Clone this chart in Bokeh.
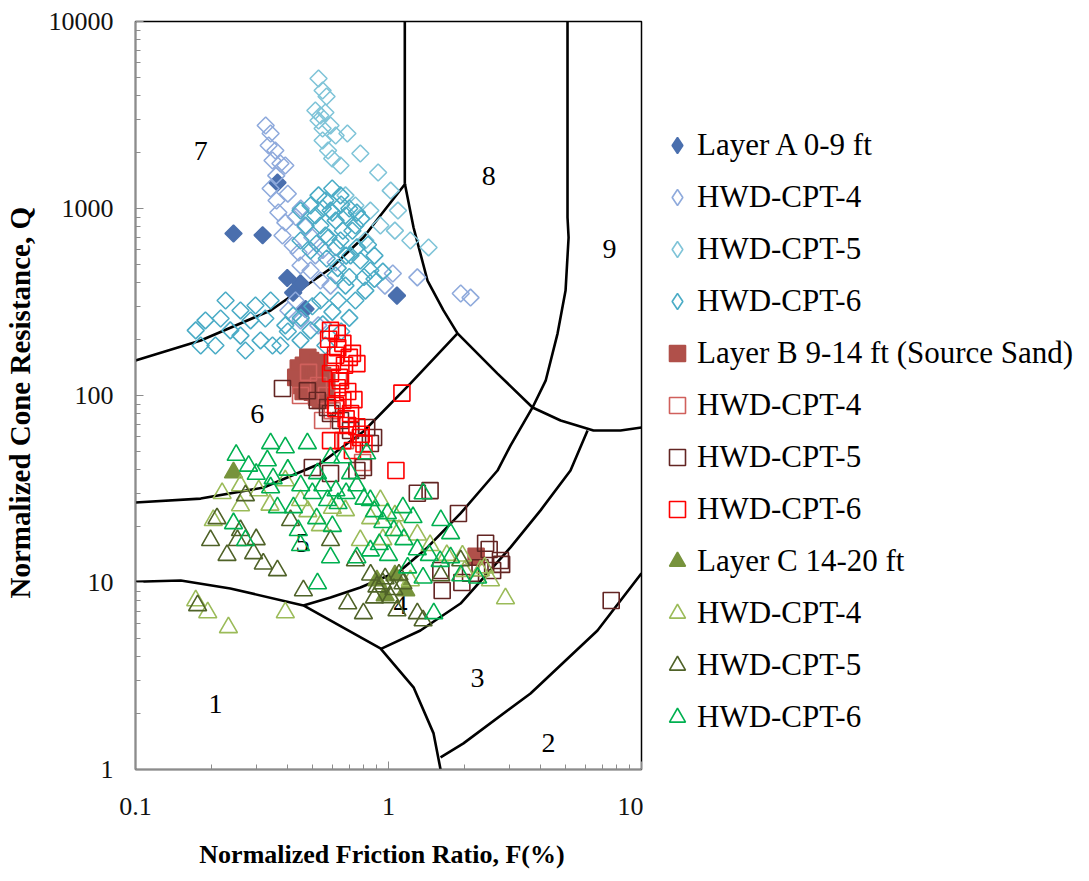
import numpy as np
from bokeh.plotting import figure
from bokeh.layouts import row
from bokeh.models import Range1d, Legend, LegendItem, CustomJSTickFormatter, FixedTicker
from bokeh.core.properties import value
from bokeh.embed import file_html
from bokeh.resources import INLINE

# ---- zone boundary curves (F %, Q) ----
b67_F = [0.1, 0.181, 0.342, 0.590, 0.796, 0.929, 1.167]
b67_Q = [154, 197, 285, 478, 700, 918, 1361]
b78_F = [1.16, 1.16]
b78_Q = [10000, 1361]
b8_F = [1.16, 1.256, 1.426, 1.649, 1.874, 2.697, 3.71, 4.79, 6.46, 8.26, 10]
b8_Q = [1361, 791, 412, 285, 215, 131, 86.3, 73.5, 65.0, 65.0, 67.4]
b9_F = [5.10, 5.10, 5.15, 5.01, 4.66, 4.18, 3.71, 3.035, 2.697, 1.926, 1.426, 1.115, 0.774, 0.590, 0.461]
b9_Q = [10000, 895, 700, 364, 215, 120, 86.3, 54.0, 39.7, 23.4, 15.4, 11.6, 9.40, 8.31, 7.54]
b56_F = [0.1, 0.181, 0.321, 0.538, 0.796, 1.222, 1.874]
b56_Q = [26.8, 28.1, 32.2, 43.3, 64.2, 116, 215]
b34_F = [6.12, 5.24, 3.99, 3.035, 1.926, 1.337, 0.929]
b34_Q = [65.0, 39.7, 24.3, 15.4, 7.72, 5.54, 4.4]
b1_F = [0.1, 0.151, 0.237, 0.461, 0.929, 1.256, 1.507, 1.606]
b1_Q = [10.1, 10.25, 9.29, 7.54, 4.44, 2.75, 1.56, 1.0]
b23_F = [10, 6.70, 3.642, 1.978, 1.606]
b23_Q = [11.2, 5.54, 2.55, 1.38, 1.16]

zone_txt = ["1", "2", "3", "4", "5", "6", "7", "8", "9"]
zone_F = [0.207, 4.29, 2.25, 1.115, 0.457, 0.303, 0.181, 2.49, 7.48]
zone_Q = [2.25, 1.39, 3.10, 7.54, 16.2, 80.1, 2042, 1500, 611]

# ---- axis ticks ----
x_major = [0.1, 1, 10]
x_minor = [0.2, 0.3, 0.4, 0.5, 0.6, 0.7, 0.8, 0.9, 2, 3, 4, 5, 6, 7, 8, 9]
y_major = [1, 10, 100, 1000, 10000]
y_minor = [2, 3, 4, 5, 6, 7, 8, 9, 20, 30, 40, 50, 60, 70, 80, 90,
           200, 300, 400, 500, 600, 700, 800, 900, 2000, 3000, 4000, 5000, 6000, 7000, 8000, 9000]

# ---- Layer A ----
A_fill_F = [0.364, 0.318, 0.244, 0.398, 0.449, 0.470, 1.08, 0.42]
A_fill_Q = [1375, 720, 735, 425, 398, 290, 342, 355]
A4_F = [0.327, 0.342, 0.336, 0.357, 0.348, 0.374, 0.391, 0.342, 0.361, 0.367, 0.391, 0.381, 0.418, 0.441,
        0.449, 0.492, 0.514, 0.538, 0.590, 0.618, 0.429, 0.402, 0.449, 0.528, 1.04, 0.968, 1.30, 1.93, 2.11,
        0.36, 0.40, 0.43, 0.47, 0.50, 0.55, 0.45]
A4_Q = [2780, 2518, 2173, 2042, 1805, 1741, 1698, 1279, 1103, 952, 841, 717, 634, 582,
        496, 466, 561, 412, 387, 514, 322, 285, 252, 237, 449, 387, 428, 351, 334,
        1500, 1200, 900, 800, 700, 600, 1000]
A5_F = [0.529, 0.549, 0.569, 0.514, 0.538, 0.563, 0.529, 0.549, 0.590, 0.618, 0.549, 0.577, 0.599, 0.646,
        0.688, 0.774, 0.910, 1.02, 1.09, 1.06, 1.22, 1.44, 0.676, 0.740, 0.848, 0.929, 0.81]
A5_Q = [4955, 4276, 3972, 3342, 3142, 3260, 2955, 2679, 2780, 2456, 2310, 2042, 1850, 1698,
        2518, 1968, 1558, 1247, 975, 762, 674, 619, 1175, 1038, 975, 811, 674]
A6_F = [0.449, 0.492, 0.529, 0.563, 0.599, 0.646, 0.590, 0.514, 0.470, 0.538, 0.618, 0.676, 0.740,
        0.563, 0.646, 0.449, 0.492, 0.708, 0.774, 0.848, 0.618, 0.676, 0.740, 0.538, 0.632, 0.81,
        0.173, 0.189, 0.217, 0.237, 0.260, 0.285, 0.312, 0.348, 0.207, 0.181, 0.272, 0.326, 0.391,
        0.374, 0.449, 0.492, 0.563, 0.342, 0.298, 0.260, 0.227, 0.420,
        0.55, 0.60, 0.65, 0.70, 0.75, 0.78, 0.72, 0.66, 0.58, 0.52, 0.62, 0.68, 0.75, 0.83, 0.88,
        0.57, 0.63, 0.70, 0.80, 0.88, 0.95, 0.50, 0.60, 0.70, 0.45, 0.55, 0.40, 0.65]
A6_Q = [975, 1038, 1175, 1103, 1279, 1175, 975, 918, 811, 811, 862, 918, 811,
        717, 674, 674, 596, 561, 527, 466, 438, 387, 322, 322, 322, 364,
        223, 252, 258, 223, 209, 252, 197, 185, 185, 185, 174, 258, 237,
        185, 197, 223, 185, 322, 303, 285, 322, 268,
        1000, 950, 1050, 1000, 950, 880, 760, 760, 700, 650, 620, 560, 620, 640, 560,
        540, 480, 430, 430, 420, 460, 300, 280, 260, 260, 240, 220, 220]

# ---- Layer B ----
B_fill_F = [0.461, 0.492, 0.529, 0.470, 0.514, 0.449, 0.549, 0.50, 0.563, 2.22, 0.538,
            0.44, 0.48, 0.53, 0.46, 0.52, 0.57, 0.43]
B_fill_Q = [145, 154, 139, 123, 120, 113, 128, 104, 109, 13.8, 94,
            140, 160, 150, 105, 98, 118, 125]
B4_F = [0.483, 0.529, 0.569, 0.599, 0.634, 0.449, 0.549, 0.676, 0.79]
B4_Q = [133, 113, 100, 83, 120, 100, 73.5, 57.4, 43.8]
B5_F = [0.381, 0.478, 0.523, 0.574, 0.590, 0.82, 0.873, 0.848, 0.50, 0.590, 0.75, 0.796, 1.46, 1.89,
        2.42, 2.77, 2.58, 1.61, 1.63, 2.11, 7.59, 0.646, 0.708, 1.3, 2.3, 2.5, 1.95, 2.8]
B5_Q = [109, 106, 94, 86.3, 80.1, 67.4, 59.6, 55.4, 41.2, 38.3, 39.7, 41.2, 31.0, 23.4,
        16.2, 13.1, 11.6, 11.6, 9.06, 11.2, 8.01, 73.5, 65, 30, 12, 15, 10, 12.5]
B6_F = [0.590, 0.627, 0.66, 0.72, 0.75, 0.590, 0.627, 0.66, 0.708, 0.590, 0.66, 0.72, 0.774, 1.13,
        1.07, 0.618, 0.67, 0.646, 0.618, 0.69,
        0.58, 0.63, 0.70, 0.60, 0.64, 0.69, 0.73, 0.62, 0.68, 0.75, 0.78, 0.80]
B6_Q = [223, 215, 190, 168, 148, 131, 110, 94, 80.1, 57.4, 57.4, 50.8, 59.6, 103,
        39.7, 164, 145, 120, 88.5, 69.1,
        200, 180, 160, 150, 125, 105, 95, 85, 75, 68, 62, 55]

# ---- Layer C ----
C_fill_F = [0.244, 0.90, 1.06, 1.17, 0.97]
C_fill_Q = [38.7, 10.25, 10.9, 9.06, 8.52]
C4_F = [0.173, 0.193, 0.233, 0.391, 0.203, 0.260, 0.307, 0.391, 0.449, 0.676, 0.929, 1.06, 1.46, 1.96,
        2.31, 2.90, 2.53, 0.538, 0.774, 1.22,
        0.22, 0.26, 0.34, 0.48, 0.60, 0.85, 1.1, 1.3, 1.7, 2.0, 2.4, 0.95]
C4_Q = [8.01, 6.91, 5.75, 6.91, 21.5, 25.8, 31.0, 35.1, 27.5, 24.3, 27.5, 22.8, 15.8, 13.9,
        11.6, 8.21, 10.25, 20.2, 16.8, 10.25,
        30, 33, 26, 24, 25, 22, 19, 18, 14, 11.5, 12, 17]
C5_F = [0.176, 0.253, 0.293, 0.32, 0.364, 0.461, 0.69, 0.796, 1.02, 1.08, 1.30, 1.37, 0.95, 1.14,
        0.198, 0.41, 0.590, 0.74, 1.61, 1.93, 0.272,
        0.85, 0.90, 0.97, 1.05, 1.10, 0.88, 0.30, 0.26, 0.23, 0.21]
C5_Q = [7.54, 16.8, 14.3, 12.6, 11.6, 9.06, 7.72, 6.83, 8.31, 7.08, 6.83, 6.26, 9.88, 9.88,
        16.8, 21.5, 16.8, 13.1, 10.9, 13.1, 29.2,
        11, 9.5, 10.5, 9.2, 11, 8.3, 17, 19, 14, 22]
C6_F = [0.342, 0.391, 0.478, 0.332, 0.590, 0.66, 0.82, 0.524, 0.708, 0.244, 0.342, 0.364, 0.421, 0.574,
        0.632, 0.848, 0.99, 1.14, 1.37, 1.25, 1.61, 1.76, 0.524, 0.590, 0.75, 0.848, 1.19, 1.37,
        1.51, 1.76, 2.25, 0.272, 0.449, 1.93,
        0.25, 0.28, 0.30, 0.35, 0.40, 0.45, 0.50, 0.55, 0.62, 0.68, 0.75, 0.80, 0.88, 0.95, 1.05,
        1.15, 1.3, 1.45, 1.6, 0.92, 1.0, 0.6, 0.52, 0.44]
C6_Q = [55.4, 52.7, 55.4, 44.9, 46.6, 46.6, 48.9, 38.3, 38.3, 20.7, 32.2, 25.2, 25.2, 27.5,
        26.5, 27.5, 23.4, 25.2, 29.9, 22.3, 21.5, 18.3, 9.88, 13.6, 13.6, 14.8, 12.0, 10.6,
        6.83, 13.6, 10.6, 16.8, 15.8, 10.9,
        48, 42, 38, 36, 40, 33, 30, 33, 31, 30, 33, 28, 24, 21, 19,
        17, 15, 14, 13, 16, 14, 20, 22, 19]

SERIF = "Liberation Serif"

p = figure(width=643, height=881, x_axis_type="log", y_axis_type="log",
           x_range=Range1d(0.1, 10), y_range=Range1d(1, 10000),
           output_backend="svg", toolbar_location=None,
           min_border_left=135, min_border_right=2, min_border_top=21, min_border_bottom=112)
p.xgrid.visible = False
p.ygrid.visible = False
p.outline_line_color = "black"
p.outline_line_width = 1.5
p.background_fill_color = "white"
p.border_fill_color = "white"

p.xaxis.ticker = FixedTicker(ticks=x_major, minor_ticks=x_minor)
p.yaxis.ticker = FixedTicker(ticks=y_major, minor_ticks=y_minor)

fmt = CustomJSTickFormatter(code="return String(parseFloat(tick.toPrecision(6)));")
for ax in (p.xaxis[0], p.yaxis[0]):
    ax.formatter = fmt
    ax.axis_line_color = "#8c8c8c"
    ax.axis_line_width = 1.5
    ax.major_tick_line_color = "#8c8c8c"
    ax.minor_tick_line_color = "#8c8c8c"
    ax.major_tick_in = 8
    ax.major_tick_out = 0
    ax.minor_tick_in = 5
    ax.minor_tick_out = 0
    ax.major_label_text_font = SERIF
    ax.major_label_text_font_size = "26px"
    ax.major_label_text_color = "#111111"
    ax.axis_label_text_font = SERIF
    ax.axis_label_text_font_style = "bold"
    ax.axis_label_text_color = "black"

p.xaxis.axis_label = "Normalized  Friction  Ratio, F(%)"
p.xaxis.axis_label_text_font_size = "26px"
p.xaxis.major_label_standoff = 28
p.xaxis.axis_label_standoff = 22
p.yaxis.axis_label = "Normalized  Cone  Resistance, Q"
p.yaxis.axis_label_text_font_size = "29px"
p.yaxis.major_label_standoff = 22
p.yaxis.axis_label_standoff = 10

# boundaries
for bf, bq in [(b67_F, b67_Q), (b78_F, b78_Q), (b8_F, b8_Q), (b9_F, b9_Q), (b56_F, b56_Q),
               (b34_F, b34_Q), (b1_F, b1_Q), (b23_F, b23_Q)]:
    p.line(bf, bq, line_color="black", line_width=2.6)

p.text(zone_F, zone_Q, text=zone_txt, text_font=value(SERIF), text_font_size="28px",
       text_align="center", text_baseline="middle", text_color="black")

D = np.pi / 4
series = [
    ("Layer A 0-9 ft", A_fill_F, A_fill_Q, "square", D, 12, "diamond", "#4a6fae", "#4a6fae"),
    ("HWD-CPT-4", A4_F, A4_Q, "square", D, 12, "diamond", None, "#8faadc"),
    ("HWD-CPT-5", A5_F, A5_Q, "square", D, 12, "diamond", None, "#7fc4d8"),
    ("HWD-CPT-6", A6_F, A6_Q, "square", D, 12, "diamond", None, "#4bacc6"),
    ("Layer B 9-14 ft (Source Sand)", B_fill_F, B_fill_Q, "square", 0, 16, "square", "#b0504a", "#b0504a"),
    ("HWD-CPT-4", B4_F, B4_Q, "square", 0, 16, "square", None, "#d0605c"),
    ("HWD-CPT-5", B5_F, B5_Q, "square", 0, 16, "square", None, "#632523"),
    ("HWD-CPT-6", B6_F, B6_Q, "square", 0, 16, "square", None, "#ff0000"),
    ("Layer C 14-20 ft", C_fill_F, C_fill_Q, "triangle", 0, 18, "triangle", "#77933c", "#77933c"),
    ("HWD-CPT-4", C4_F, C4_Q, "triangle", 0, 18, "triangle", None, "#9bbb59"),
    ("HWD-CPT-5", C5_F, C5_Q, "triangle", 0, 18, "triangle", None, "#4f6228"),
    ("HWD-CPT-6", C6_F, C6_Q, "triangle", 0, 18, "triangle", None, "#00b050"),
]

# legend panel as its own figure to the right of the chart
p2 = figure(width=446, height=881, x_range=Range1d(0, 1), y_range=Range1d(0, 1),
            x_axis_location=None, y_axis_location=None, toolbar_location=None,
            output_backend="svg", min_border=0)
p2.xgrid.visible = False
p2.ygrid.visible = False
p2.outline_line_color = None
p2.background_fill_color = "white"
p2.border_fill_color = "white"

items = []
for label, xs, ys, mk, ang, sz, lmk, fill, line in series:
    p.scatter(xs, ys, marker=mk, angle=ang, size=sz,
              fill_color=fill, line_color=line, line_width=1.6)
    r2 = p2.scatter([np.nan], [np.nan], marker=lmk, size=sz,
                    fill_color=fill, line_color=line, line_width=1.6)
    items.append(LegendItem(label=label, renderers=[r2]))

legend = Legend(items=items, location=(14, 30), orientation="vertical",
                label_text_font=SERIF, label_text_font_size="31px", label_text_color="black",
                glyph_width=40, glyph_height=44, label_standoff=0, spacing=8,
                padding=0, margin=0, border_line_alpha=0, background_fill_alpha=0)
p2.add_layout(legend, "center")

layout = row(p, p2, spacing=0)
open("out.html", "w").write(file_html(layout, INLINE))
